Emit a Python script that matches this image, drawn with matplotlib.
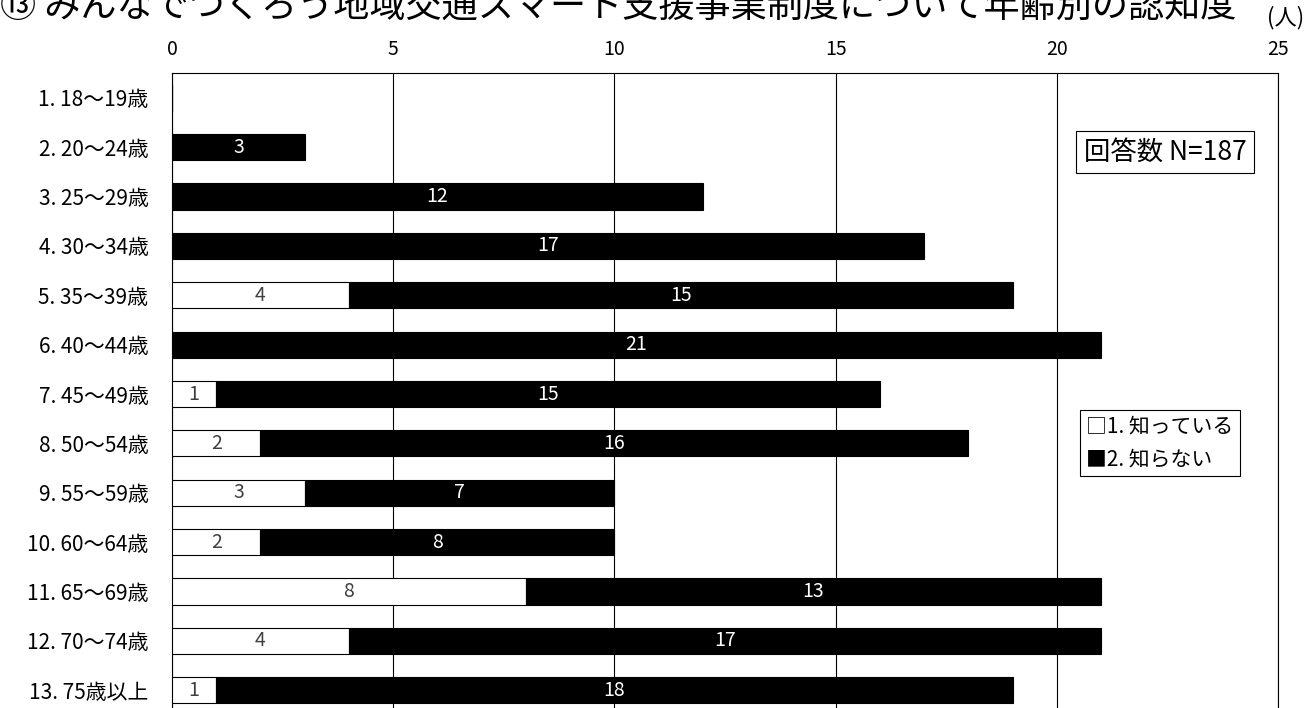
import numpy as np
import matplotlib.pyplot as plt

plt.rcParams['font.family'] = ['Noto Sans CJK JP', 'DejaVu Sans']

# data
ages = ['1. 18～19歳', '2. 20～24歳', '3. 25～29歳', '4. 30～34歳', '5. 35～39歳',
        '6. 40～44歳', '7. 45～49歳', '8. 50～54歳', '9. 55～59歳', '10. 60～64歳',
        '11. 65～69歳', '12. 70～74歳', '13. 75歳以上']
know = [0, 0, 0, 0, 4, 0, 1, 2, 3, 2, 8, 4, 1]
dont_know = [0, 3, 12, 17, 15, 21, 15, 16, 7, 8, 13, 17, 18]
x_ticks = [0, 5, 10, 15, 20, 25]

fig = plt.figure(figsize=(13.09, 7.08), dpi=100)
ax = fig.add_axes([172/1309, -0.01, (1278-172)/1309, 0.907])

y = np.arange(len(ages))
h = 0.53
ax.barh(y, know, height=h, color='white', edgecolor='black', linewidth=0.8, zorder=3)
ax.barh(y, dont_know, left=know, height=h, color='black', edgecolor='black', linewidth=0.8, zorder=3)

for i in range(len(ages)):
    if know[i] > 0:
        ax.text(know[i] / 2, i, str(know[i]), ha='center', va='center',
                color='#404040', fontsize=14, zorder=4)
    if dont_know[i] > 0:
        ax.text(know[i] + dont_know[i] / 2, i, str(dont_know[i]), ha='center', va='center',
                color='white', fontsize=14, zorder=4)

ax.set_xlim(0, 25)
ax.set_ylim(len(ages) - 0.5, -0.5)
ax.set_xticks(x_ticks)
ax.xaxis.tick_top()
ax.tick_params(axis='x', length=0, labelsize=14, pad=9)
ax.set_yticks(y)
ax.set_yticklabels(ages, fontsize=15)
ax.tick_params(axis='y', length=0, pad=17)
ax.grid(axis='x', color='black', linewidth=0.8, zorder=0)
for s in ax.spines.values():
    s.set_color('black')
    s.set_linewidth(0.8)

# title is partly cut off at the top, as in the original image
fig.text(0.0, 0.99, '⑬ みんなでつくろう地域交通スマート支援事業制度について年齢別の認知度',
         fontsize=26, ha='left', va='center')
fig.text(1286/1309, 1 - 18/708, '(人)', fontsize=16, ha='center', va='center')

ax.text(1165/1309, 1 - 152/708, '回答数 N=187', transform=fig.transFigure, fontsize=19,
        ha='center', va='center',
        bbox=dict(boxstyle='square,pad=0.3', facecolor='white', edgecolor='black', linewidth=0.8))
ax.text(1086/1309, 1 - 443/708, '□1. 知っている\n■2. 知らない', transform=fig.transFigure,
        fontsize=15, ha='left', va='center', linespacing=1.6,
        bbox=dict(boxstyle='square,pad=0.3', facecolor='white', edgecolor='black', linewidth=0.8))

fig.savefig('out.png', dpi=100)
